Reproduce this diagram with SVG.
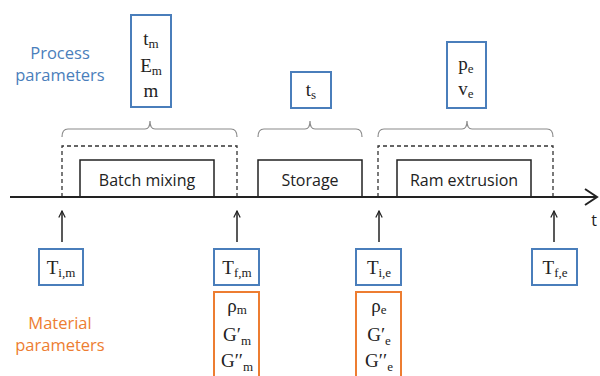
<svg xmlns="http://www.w3.org/2000/svg" width="600" height="376" viewBox="0 0 600 376">
<defs>
<style>
.lbl{font-family:"Open Sans","Liberation Sans",sans-serif;font-size:16.5px;text-anchor:middle}
.box{font-family:"Open Sans","Liberation Sans",sans-serif;font-size:16px;fill:#222;text-anchor:middle}
.m{font-family:"Liberation Serif","DejaVu Serif",serif;font-size:19px;fill:#222;text-anchor:middle}
.s{font-size:13px}
.bb{fill:#fff;stroke:#4a7ebb;stroke-width:2}
.ob{fill:#fff;stroke:#ed7d31;stroke-width:2}
.pb{fill:#fff;stroke:#222;stroke-width:1.5}
.dash{fill:none;stroke:#333;stroke-width:1.3;stroke-dasharray:4 3}
.brace{fill:none;stroke:#8a8a8a;stroke-width:1.2}
.up{stroke:#222;stroke-width:1.5;fill:none;marker-end:url(#ah)}
</style>
<marker id="ah" viewBox="0 0 10 10" refX="9" refY="5" markerWidth="8" markerHeight="8" orient="auto" markerUnits="userSpaceOnUse">
<path d="M1,1 L9,5 L1,9" fill="none" stroke="#222" stroke-width="1.5"/>
</marker>
</defs>

<g id="process-label">
<text class="lbl" x="60" y="59" fill="#4a7ebb">Process</text>
<text class="lbl" x="60" y="81" fill="#4a7ebb">parameters</text>
</g>
<g id="material-label">
<text class="lbl" x="60" y="329" fill="#ed7d31">Material</text>
<text class="lbl" x="60" y="351" fill="#ed7d31">parameters</text>
</g>

<g id="connectors">
<path class="brace" d="M62,137 Q62,129 68,129 L145,129 Q150,129 150,121 Q150,129 155,129 L231,129 Q237,129 237,137"/>
<path class="brace" d="M258,137 Q258,129 264,129 L305,129 Q310,129 310,121 Q310,129 315,129 L356,129 Q362,129 362,137"/>
<path class="brace" d="M378,137 Q378,129 384,129 L462,129 Q467,129 467,121 Q467,129 472,129 L547,129 Q553,129 553,137"/>
<path class="dash" d="M62,197 V146 H237 V197"/>
<path class="dash" d="M378,197 V146 H553 V197"/>
<line class="up" x1="62" y1="242" x2="62" y2="211"/>
<line class="up" x1="237" y1="242" x2="237" y2="211"/>
<line class="up" x1="379" y1="242" x2="379" y2="211"/>
<line class="up" x1="554" y1="242" x2="554" y2="211"/>
</g>

<g id="batch-mixing">
<rect class="pb" x="80" y="160" width="134" height="37"/>
<text class="box" x="147" y="186">Batch mixing</text>
</g>
<g id="storage">
<rect class="pb" x="258" y="160" width="104" height="37"/>
<text class="box" x="310" y="186">Storage</text>
</g>
<g id="ram-extrusion">
<rect class="pb" x="397" y="160" width="134" height="37"/>
<text class="box" x="464" y="186">Ram extrusion</text>
</g>

<g id="timeline">
<line x1="10" y1="197" x2="597" y2="197" stroke="#222" stroke-width="2"/>
<path d="M585,189 L597,197 L585,205" fill="none" stroke="#222" stroke-width="2"/>
<text class="box" x="594" y="226">t</text>
</g>

<g id="mixing-params">
<rect class="bb" x="131" y="15" width="40" height="92"/>
<text class="m" x="151" y="45">t<tspan class="s" dy="3">m</tspan></text>
<text class="m" x="151" y="72">E<tspan class="s" dy="3">m</tspan></text>
<text class="m" x="151" y="97">m</text>
</g>
<g id="storage-params">
<rect class="bb" x="291" y="72" width="40" height="36"/>
<text class="m" x="311" y="96">t<tspan class="s" dy="3">s</tspan></text>
</g>
<g id="extrusion-params">
<rect class="bb" x="447" y="42" width="39" height="66"/>
<text class="m" x="466" y="70">p<tspan class="s" dy="3">e</tspan></text>
<text class="m" x="466" y="95">v<tspan class="s" dy="3">e</tspan></text>
</g>

<g id="T-i-m">
<rect class="bb" x="39" y="249" width="44" height="36"/>
<text class="m" x="61" y="274">T<tspan class="s" dy="3">i,m</tspan></text>
</g>
<g id="T-f-m">
<rect class="bb" x="214" y="249" width="45" height="36"/>
<text class="m" x="237" y="274">T<tspan class="s" dy="3">f,m</tspan></text>
</g>
<g id="T-i-e">
<rect class="bb" x="356" y="249" width="45" height="36"/>
<text class="m" x="379" y="274">T<tspan class="s" dy="3">i,e</tspan></text>
</g>
<g id="T-f-e">
<rect class="bb" x="532" y="249" width="45" height="36"/>
<text class="m" x="555" y="274">T<tspan class="s" dy="3">f,e</tspan></text>
</g>

<g id="mixing-material">
<rect class="ob" x="214" y="292" width="45" height="90"/>
<text class="m" x="237" y="312">ρ<tspan class="s" dy="2">m</tspan></text>
<text class="m" x="237" y="341">G′<tspan class="s" dy="4">m</tspan></text>
<text class="m" x="237" y="367">G′′<tspan class="s" dy="4">m</tspan></text>
</g>
<g id="extrusion-material">
<rect class="ob" x="356" y="292" width="45" height="90"/>
<text class="m" x="379" y="312">ρ<tspan class="s" dy="2">e</tspan></text>
<text class="m" x="379" y="341">G′<tspan class="s" dy="4">e</tspan></text>
<text class="m" x="379" y="367">G′′<tspan class="s" dy="4">e</tspan></text>
</g>
</svg>
